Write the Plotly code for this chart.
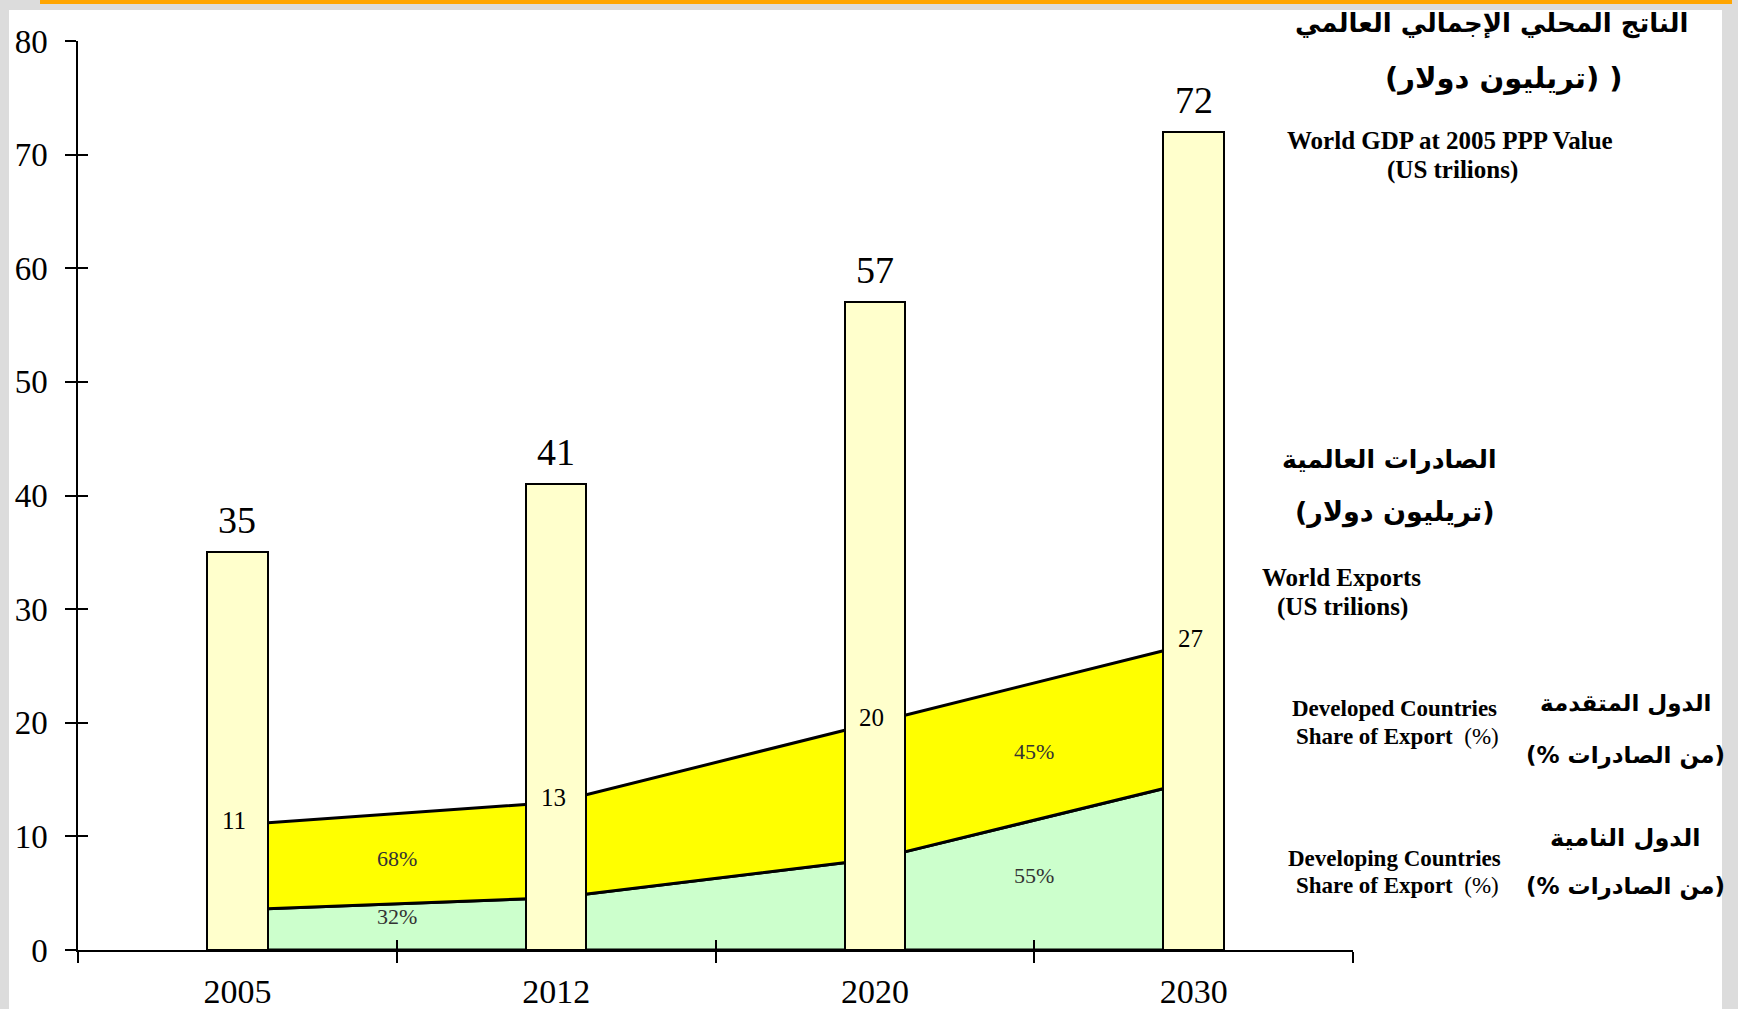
import plotly.graph_objects as go

# ---------------- data ----------------
years = ["2005", "2012", "2020", "2030"]
gdp = [35, 41, 57, 72]                      # World GDP (US trillions)
exports = [11, 13, 20, 27]                  # World exports (US trillions)
developing_exports = [3.52, 4.6, 8.0, 14.85]  # developing-country part of exports
developed_share_labels = ["68%", "45%"]
developing_share_labels = ["32%", "55%"]
share_label_segments = [0, 2]               # label sits between year i and i+1
y_ticks = list(range(0, 81, 10))

x = list(range(len(years)))
boundaries = [i - 0.5 for i in range(len(years) + 1)]

W, H = 1738, 1009
L, R, T, B = 78, 385, 41, 59
SERIF = "Liberation Serif, Times New Roman, serif"
ARABIC = "DejaVu Sans, Arial, sans-serif"
LRM = "\u200E"


def px(xp):
    return (xp - L) / (W - L - R)


def py(yp):
    return (H - B - yp) / (H - T - B)


fig = go.Figure()

# developing countries area (green)
fig.add_trace(go.Scatter(
    x=x + x[::-1], y=developing_exports + [0] * len(x),
    fill="toself", fillcolor="#CCFFCC", mode="lines",
    line=dict(color="black", width=3), hoverinfo="skip", showlegend=False,
    xaxis="x", yaxis="y"))

# developed countries area (yellow)
fig.add_trace(go.Scatter(
    x=x + x[::-1], y=exports + developing_exports[::-1],
    fill="toself", fillcolor="#FFFF00", mode="lines",
    line=dict(color="black", width=3), hoverinfo="skip", showlegend=False,
    xaxis="x", yaxis="y"))

# GDP bars (on overlaid axes so they sit on top of the areas)
fig.add_trace(go.Bar(
    x=x, y=gdp, width=0.19,
    marker=dict(color="#FFFFCC", line=dict(color="black", width=2)),
    showlegend=False, xaxis="x2", yaxis="y2"))

annotations = []
for i, v in enumerate(gdp):
    annotations.append(dict(x=x[i], y=v, xref="x", yref="y", text=str(v),
                            showarrow=False, yanchor="bottom", yshift=9,
                            font=dict(family=SERIF, size=38, color="black")))
for i, v in enumerate(exports):
    annotations.append(dict(x=x[i], y=v, xref="x", yref="y", text=str(v),
                            showarrow=False, yanchor="middle", yshift=5, xshift=-3,
                            font=dict(family=SERIF, size=25, color="black")))
for k, s in enumerate(share_label_segments):
    xm = s + 0.5
    dev_mid = (developing_exports[s] + developing_exports[s + 1]) / 2
    tot_mid = (exports[s] + exports[s + 1]) / 2
    annotations.append(dict(x=xm, y=(dev_mid + tot_mid) / 2, xref="x", yref="y",
                            text=developed_share_labels[k], showarrow=False,
                            font=dict(family=SERIF, size=22, color="#333333")))
    annotations.append(dict(x=xm, y=dev_mid / 2, xref="x", yref="y",
                            text=developing_share_labels[k], showarrow=False, yshift=10,
                            font=dict(family=SERIF, size=22, color="#333333")))

side_texts = [
    ("الناتج المحلي الإجمالي العالمي", 1491, 24, ARABIC, 26),
    ("(تريليون دولار) )", 1504, 78, ARABIC, 29),
    ("<b>World GDP at 2005 PPP Value</b>", 1450, 141, SERIF, 25),
    ("<b>(US trilions)</b>", 1452, 170, SERIF, 25),
    ("الصادرات العالمية", 1389, 460, ARABIC, 25),
    ("(تريليون دولار)", 1394, 512, ARABIC, 27),
    ("<b>World Exports</b>", 1341, 577, SERIF, 25),
    ("<b>(US trilions)</b>", 1342, 607, SERIF, 25),
    ("<b>Developed Countries</b>", 1394, 709, SERIF, 23),
    ("<b>Share of Export  </b>(%)", 1397, 736, SERIF, 23),
    ("<b>Developing Countries</b>", 1394, 858, SERIF, 23),
    ("<b>Share of Export  </b>(%)", 1397, 885, SERIF, 23),
    ("الدول المتقدمة", 1625, 703, ARABIC, 23),
    ("(% من الصادرات)", 1625, 755, ARABIC, 23),
    ("الدول النامية", 1625, 838, ARABIC, 24),
    ("(% من الصادرات)", 1625, 886, ARABIC, 23),
]
for txt, xp, yp, fam, size in side_texts:
    if fam == ARABIC:
        txt = "<b>" + LRM + txt + LRM + "</b>"
    annotations.append(dict(x=px(xp), y=py(yp), xref="paper", yref="paper",
                            text=txt, showarrow=False, xanchor="center", yanchor="middle",
                            font=dict(family=fam, size=size, color="black")))

shapes = [
    # textured page border strips
    dict(type="rect", xref="paper", yref="paper", x0=px(0), x1=px(9), y0=py(H), y1=py(0),
         fillcolor="#dcdcdc", line=dict(width=0), layer="below"),
    dict(type="rect", xref="paper", yref="paper", x0=px(1722), x1=px(W), y0=py(H), y1=py(0),
         fillcolor="#dcdcdc", line=dict(width=0), layer="below"),
    dict(type="rect", xref="paper", yref="paper", x0=px(0), x1=px(W), y0=py(10), y1=py(0),
         fillcolor="#dcdcdc", line=dict(width=0), layer="below"),
    dict(type="rect", xref="paper", yref="paper", x0=px(40), x1=px(1732), y0=py(4), y1=py(0),
         fillcolor="#FFA500", line=dict(width=0), layer="below"),
]

axis_common = dict(showgrid=False, zeroline=False, automargin=False)
fig.update_layout(
    width=W, height=H,
    margin=dict(l=L, r=R, t=T, b=B, pad=0, autoexpand=False),
    paper_bgcolor="white", plot_bgcolor="rgba(0,0,0,0)",
    bargap=0,
    xaxis=dict(range=[-0.5, len(years) - 0.5], tickmode="array", tickvals=x, ticktext=years,
               ticks="", ticklen=0, showline=True, linecolor="black", linewidth=1.5,
               minor=dict(tickmode="array", tickvals=boundaries, ticks="outside",
                          ticklen=11, tickcolor="black", tickwidth=1.5),
               ticklabelstandoff=10,
               tickfont=dict(family=SERIF, size=34, color="black"), **axis_common),
    yaxis=dict(range=[0, 80], tickmode="array", tickvals=y_ticks, ticks="outside",
               ticklen=11, tickwidth=1.5, tickcolor="black", showline=True,
               linecolor="black", linewidth=1.5, ticklabelstandoff=11,
               tickfont=dict(family=SERIF, size=33, color="black"), **axis_common),
    xaxis2=dict(range=[-0.5, len(years) - 0.5], overlaying="x", anchor="y2",
                tickmode="array", tickvals=boundaries, ticks="inside", ticklen=10,
                tickwidth=1.5, tickcolor="black", showticklabels=False, showline=False,
                **axis_common),
    yaxis2=dict(range=[0, 80], overlaying="y", anchor="x2", side="left",
                tickmode="array", tickvals=y_ticks, ticks="inside", ticklen=10,
                tickwidth=1.5, tickcolor="black", showticklabels=False, showline=False,
                **axis_common),
    annotations=annotations,
    shapes=shapes,
)

fig.write_html("out.html", config={"displayModeBar": False},
               post_script="document.body.style.margin='0';document.body.style.overflow='hidden';")
